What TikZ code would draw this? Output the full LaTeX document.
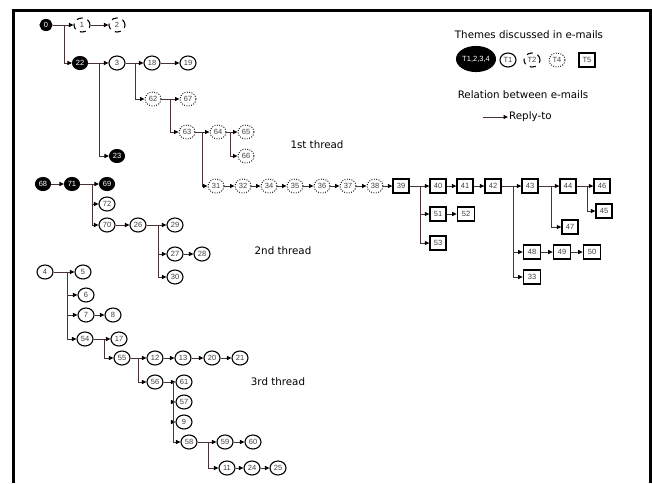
\documentclass[tikz,border=0pt]{standalone}
\usepackage{fontspec}
\setmainfont{Liberation Sans}
\newfontfamily\titlefont{DejaVu Sans}
\usetikzlibrary{shapes.geometric,arrows.meta}
\definecolor{linec}{RGB}{75,50,50}
\tikzset{
  em/.style={ellipse,draw=black,line width=1.1pt,inner sep=0pt,minimum width=16pt,minimum height=14pt,font=\fontsize{7.5}{8}\selectfont,text=black!75},
  blk/.style={em,fill=black,text=white,minimum width=15pt,minimum height=13pt},
  dsh/.style={em,dash pattern=on 6pt off 5pt},
  dtt/.style={em,line width=0.9pt,dash pattern=on 0.9pt off 1.5pt},
  bx/.style={rectangle,draw=black,line width=1.3pt,inner sep=0pt,minimum width=16pt,minimum height=14pt,font=\fontsize{7.5}{8}\selectfont,text=black!75},
  conn/.style={draw=linec,line width=1pt},
  arr/.style={conn,-{Triangle[length=4.5pt,width=4pt,color=black]}},
  lbl/.style={font=\titlefont\fontsize{10.3}{12}\selectfont},
}
\begin{document}
\begin{tikzpicture}[x=1pt,y=-1pt]
\useasboundingbox (0,0) rectangle (652,483);
\draw[line width=3pt,line join=miter] (13,483) -- (13,10) -- (650,10) -- (650,483);

% ---------- thread 1 ----------
\node[blk,minimum width=12pt,minimum height=11pt] (n0) at (46,25) {0};
\node[dsh] (n1) at (82,25) {1};
\node[dsh] (n2) at (117,25) {2};
\node[blk] (n22) at (80,63) {22};
\node[em] (n3) at (117,63) {3};
\node[em] (n18) at (152,63) {18};
\node[em] (n19) at (188,63) {19};
\node[dtt] (n62) at (153,99) {62};
\node[dtt] (n67) at (188,99) {67};
\node[dtt] (n63) at (187,132) {63};
\node[dtt] (n64) at (218,132) {64};
\node[dtt] (n65) at (246,132) {65};
\node[dtt] (n66) at (246,156) {66};
\node[blk] (n23) at (117,156) {23};
\node[dtt] (n31) at (216,186) {31};
\node[dtt] (n32) at (243,186) {32};
\node[dtt] (n34) at (269,186) {34};
\node[dtt] (n35) at (295,186) {35};
\node[dtt] (n36) at (322,186) {36};
\node[dtt] (n37) at (348,186) {37};
\node[dtt] (n38) at (375,186) {38};
\node[bx] (n39) at (401,186) {39};
\node[bx] (n40) at (438,186) {40};
\node[bx] (n41) at (465,186) {41};
\node[bx] (n42) at (493,186) {42};
\node[bx] (n43) at (530,186) {43};
\node[bx] (n44) at (568,186) {44};
\node[bx] (n46) at (602,186) {46};
\node[bx] (n45) at (604,211) {45};
\node[bx] (n47) at (570,227) {47};
\node[bx] (n51) at (438,214) {51};
\node[bx,line width=1.6pt,minimum width=17pt] (n52) at (466,214) {52};
\node[bx] (n53) at (438,243) {53};
\node[bx,line width=1.6pt,minimum width=17pt] (n48) at (532,252) {48};
\node[bx,line width=1.6pt,minimum width=17pt] (n49) at (562,252) {49};
\node[bx,line width=1.6pt,minimum width=17pt] (n50) at (592,252) {50};
\node[bx,line width=1.6pt,minimum width=17pt] (n33) at (532,277) {33};

\coordinate (b0) at (64,25);
\coordinate (b22) at (99,63);
\coordinate (b3) at (135,63);
\coordinate (b62) at (170,99);
\coordinate (b63) at (202,132);
\coordinate (b64) at (230,132);
\coordinate (b39) at (420,186);
\coordinate (b42) at (513,186);
\coordinate (b43) at (551,186);
\coordinate (b44) at (587,186);

\draw[arr] (n0) -- (n1);
\draw[arr] (n1) -- (n2);
\draw[arr] (b0) |- (n22);
\draw[arr] (n22) -- (n3);
\draw[arr] (b22) |- (n23);
\draw[arr] (n3) -- (n18);
\draw[arr] (n18) -- (n19);
\draw[arr] (b3) |- (n62);
\draw[arr] (n62) -- (n67);
\draw[arr] (b62) |- (n63);
\draw[arr] (n63) -- (n64);
\draw[arr] (b63) |- (n31);
\draw[arr] (n64) -- (n65);
\draw[arr] (b64) |- (n66);
\draw[arr] (n31) -- (n32);
\draw[arr] (n32) -- (n34);
\draw[arr] (n34) -- (n35);
\draw[arr] (n35) -- (n36);
\draw[arr] (n36) -- (n37);
\draw[arr] (n37) -- (n38);
\draw[arr] (n38) -- (n39);
\draw[arr] (n39) -- (n40);
\draw[arr] (b39) |- (n51);
\draw[arr] (b39) |- (n53);
\draw[arr] (n51) -- (n52);
\draw[arr] (n40) -- (n41);
\draw[arr] (n41) -- (n42);
\draw[arr] (n42) -- (n43);
\draw[arr] (b42) |- (n48);
\draw[arr] (b42) |- (n33);
\draw[arr] (n48) -- (n49);
\draw[arr] (n49) -- (n50);
\draw[arr] (n43) -- (n44);
\draw[arr] (b43) |- (n47);
\draw[arr] (n44) -- (n46);
\draw[arr] (b44) |- (n45);

\node[lbl] (t1) at (317,145) {1st thread};

% ---------- thread 2 ----------
\node[blk] (n68) at (43,184) {68};
\node[blk] (n71) at (72,184) {71};
\node[blk] (n69) at (107,184) {69};
\node[em] (n72) at (107,204) {72};
\node[em] (n70) at (107,225) {70};
\node[em] (n26) at (138,225) {26};
\node[em] (n29) at (175,225) {29};
\node[em] (n27) at (175,254) {27};
\node[em] (n28) at (202,254) {28};
\node[em] (n30) at (175,277) {30};
\coordinate (b71) at (92,184);
\coordinate (b26) at (158,225);
\draw[arr] (n68) -- (n71);
\draw[arr] (n71) -- (n69);
\draw[arr] (b71) |- (n72);
\draw[arr] (b71) |- (n70);
\draw[arr] (n70) -- (n26);
\draw[arr] (n26) -- (n29);
\draw[arr] (b26) |- (n27);
\draw[arr] (b26) |- (n30);
\draw[arr] (n27) -- (n28);
\node[lbl] (t2) at (283,251) {2nd thread};

% ---------- thread 3 ----------
\node[em] (n4) at (45,272) {4};
\node[em] (n5) at (83,272) {5};
\node[em] (n6) at (86,295) {6};
\node[em] (n7) at (86,315) {7};
\node[em] (n8) at (113,315) {8};
\node[em] (n54) at (85,339) {54};
\node[em] (n17) at (119,339) {17};
\node[em] (n55) at (122,358) {55};
\node[em] (n12) at (155,358) {12};
\node[em] (n13) at (183,358) {13};
\node[em] (n20) at (212,358) {20};
\node[em] (n21) at (240,358) {21};
\node[em] (n56) at (155,382) {56};
\node[em] (n61) at (184,382) {61};
\node[em] (n57) at (184,402) {57};
\node[em] (n9) at (184,422) {9};
\node[em] (n58) at (189,442) {58};
\node[em] (n59) at (225,442) {59};
\node[em] (n60) at (253,442) {60};
\node[em] (n11) at (227,468) {11};
\node[em] (n24) at (252,468) {24};
\node[em] (n25) at (278,468) {25};
\coordinate (b4) at (67,272);
\coordinate (b54) at (104,339);
\coordinate (b55) at (138,358);
\coordinate (b56) at (173,382);
\coordinate (b58) at (208,442);
\draw[arr] (n4) -- (n5);
\draw[arr] (b4) |- (n6);
\draw[arr] (b4) |- (n7);
\draw[arr] (b4) |- (n54);
\draw[arr] (n7) -- (n8);
\draw[arr] (n54) -- (n17);
\draw[arr] (b54) |- (n55);
\draw[arr] (n55) -- (n12);
\draw[arr] (b55) |- (n56);
\draw[arr] (n12) -- (n13);
\draw[arr] (n13) -- (n20);
\draw[arr] (n20) -- (n21);
\draw[arr] (n56) -- (n61);
\draw[arr] (b56) |- (n57);
\draw[arr] (b56) |- (n9);
\draw[arr] (b56) |- (n58);
\draw[arr] (n58) -- (n59);
\draw[arr] (n59) -- (n60);
\draw[arr] (b58) |- (n11);
\draw[arr] (n11) -- (n24);
\draw[arr] (n24) -- (n25);
\node[lbl] (t3) at (278,382) {3rd thread};

% ---------- legend ----------
\node[lbl] (lg1) at (529,35) {Themes discussed in e-mails};
\node[blk,minimum width=38pt,minimum height=25pt] (lT1234) at (476,59) {T1,2,3,4};
\node[em] (lT1) at (508,60) {T1};
\node[dsh] (lT2) at (532,60) {T2};
\node[dtt] (lT4) at (557,60) {T4};
\node[bx] (lT5) at (587,60) {T5};
\node[lbl] (lg2) at (523,95) {Relation between e-mails};
\coordinate (ra) at (483,117);
\node[lbl,anchor=west,inner sep=1pt] (rt) at (508,117) {Reply-to};
\draw[arr] (ra) -- (rt.west);
\end{tikzpicture}
\end{document}
